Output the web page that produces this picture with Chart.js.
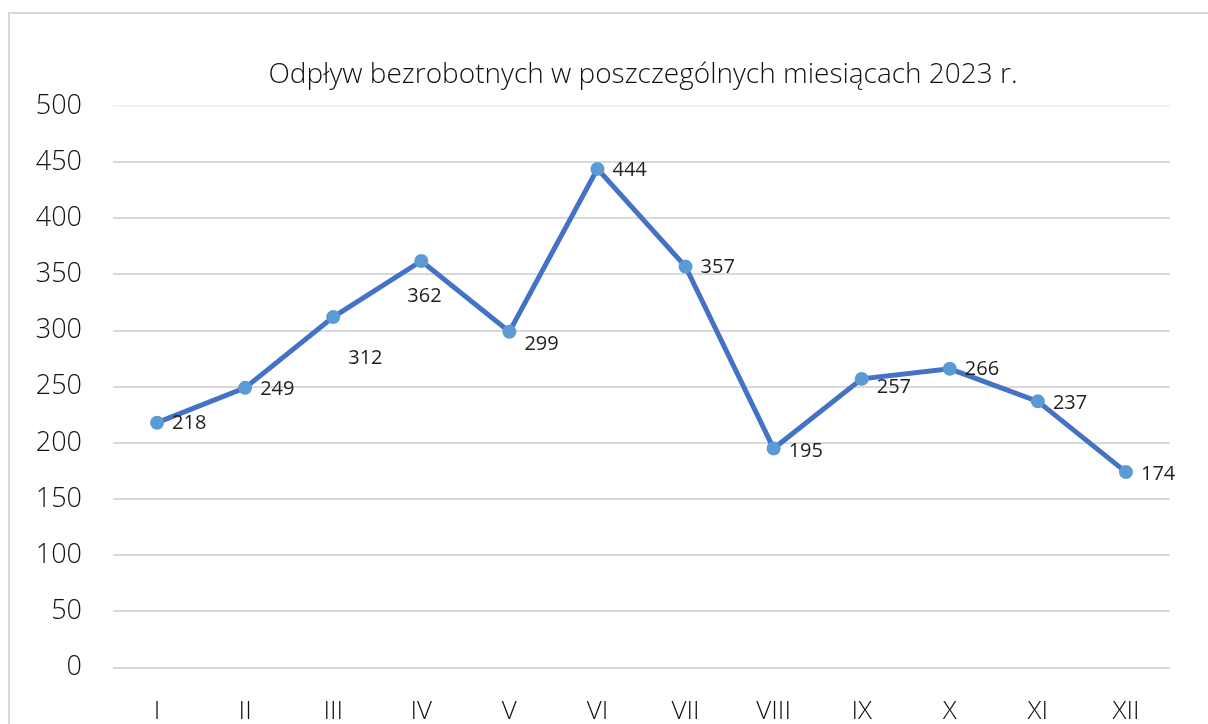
<!DOCTYPE html>
<html lang="pl">
<head>
    <meta charset="UTF-8">
    <title>Odpływ bezrobotnych</title>
    <script src="https://cdn.jsdelivr.net/npm/chart.js"></script>
    <style>
body {
    margin: 0;
    background: #fff;
    overflow: hidden;
}
.frame {
    position: absolute;
    left: 8px;
    top: 12px;
    width: 1240px;
    height: 760px;
    border: 2px solid #d9d9d9;
}
#wrap {
    position: absolute;
    left: 0;
    top: 0;
    width: 1208px;
    height: 724px;
}
    </style>
</head>
<body>
    <div class="frame"></div>
    <div id="wrap"><canvas id="lineChart"></canvas></div>
    <script>
// dane
const chartTitle = 'Odpływ bezrobotnych w poszczególnych miesiącach 2023 r.';
const months = ['I', 'II', 'III', 'IV', 'V', 'VI', 'VII', 'VIII', 'IX', 'X', 'XI', 'XII'];
const outflow = [218, 249, 312, 362, 299, 444, 357, 195, 257, 266, 237, 174];
const yTicks = [0, 50, 100, 150, 200, 250, 300, 350, 400, 450, 500];

// przesunięcie etykiet danych względem punktu (px)
const labelShift = [
    [15, 1], [15, 1], [15, 41], [-14, 35], [15, 13], [15, 1],
    [15, 1], [15, 3], [15, 8], [15, 1], [15, 2], [15, 2]
];

const FONT = '"Open Sans", sans-serif';
const TEXT = '#111111';

const valueLabels = {
    id: 'valueLabels',
    afterDatasetsDraw(chart) {
        const ctx = chart.ctx;
        const meta = chart.getDatasetMeta(0);
        ctx.save();
        ctx.font = '20px ' + FONT;
        ctx.fillStyle = '#1f1f1f';
        ctx.textAlign = 'left';
        ctx.textBaseline = 'middle';
        meta.data.forEach((pt, i) => {
            ctx.fillText(outflow[i], pt.x + labelShift[i][0], pt.y + labelShift[i][1]);
        });
        // tytuł
        ctx.font = '300 28px ' + FONT;
        ctx.fillStyle = TEXT;
        ctx.textAlign = 'center';
        ctx.fillText(chartTitle, 643, 75);
        ctx.restore();
    }
};

const ctx = document.getElementById('lineChart').getContext('2d');
new Chart(ctx, {
    type: 'line',
    data: {
        labels: months,
        datasets: [{
            data: outflow,
            borderColor: '#4472c4',
            borderWidth: 5,
            pointBackgroundColor: '#5b9bd5',
            pointBorderColor: '#5b9bd5',
            pointRadius: 7,
            pointBorderWidth: 0,
            tension: 0
        }]
    },
    options: {
        responsive: true,
        maintainAspectRatio: false,
        animation: false,
        layout: { padding: { left: 0, right: 38, top: 106, bottom: 0 } },
        plugins: {
            legend: { display: false },
            tooltip: { enabled: false },
            title: { display: false }
        },
        scales: {
            x: {
                offset: true,
                grid: { display: false, drawTicks: false },
                border: { display: false },
                ticks: {
                    color: TEXT,
                    padding: 28,
                    font: { family: FONT, size: 26, weight: 300 }
                },
                afterFit: s => { s.height = 56.5; }
            },
            y: {
                min: 0,
                max: 500,
                afterBuildTicks: s => { s.ticks = yTicks.map(v => ({ value: v })); },
                grid: {
                    drawTicks: false,
                    lineWidth: 2,
                    color: c => c.tick && c.tick.value === 500 ? '#f0f0f0' : '#d9d9d9'
                },
                border: { display: false },
                ticks: {
                    color: TEXT,
                    padding: 31,
                    font: { family: FONT, size: 27, weight: 300 }
                },
                afterFit: s => { s.width = 113; }
            }
        }
    },
    plugins: [valueLabels]
});
    </script>
</body>
</html>
